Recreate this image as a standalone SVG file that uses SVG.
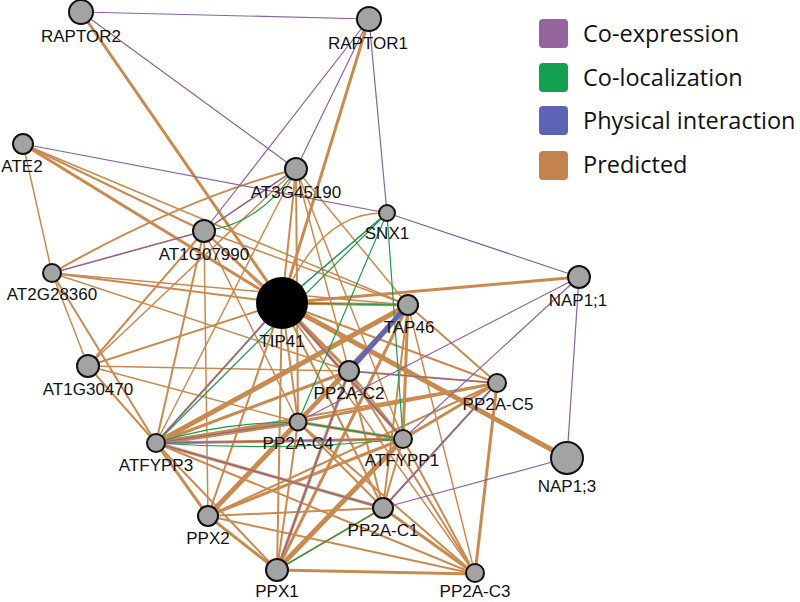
<svg xmlns="http://www.w3.org/2000/svg" width="800" height="602" viewBox="0 0 800 602">
<style>
.p{stroke:#c98a50;fill:none;stroke-width:2}
.p1{stroke:#c98a50;fill:none;stroke-width:1.5}
.p3{stroke:#c98a50;fill:none;stroke-width:3}
.p5{stroke:#c98a50;fill:none;stroke-width:5}
.e{stroke:#8a63a0;fill:none;stroke-width:1.2}
.g{stroke:#1f9a4c;fill:none;stroke-width:1.2}
.b{stroke:#6266b8;fill:none;stroke-width:5}
.n{fill:#a3a3a3;stroke:#111;stroke-width:2}
.t{font-family:"Liberation Sans",Arial,sans-serif;font-size:17px;fill:#111;text-anchor:middle}
.lg{font-family:"Open Sans","Noto Sans",sans-serif;font-size:23.5px;fill:#111}
</style>
<rect width="800" height="602" fill="#fff"/>
<g id="connectors">
<line class="p3" x1="81" y1="12" x2="282" y2="303"/>
<line class="p3" x1="369" y1="19" x2="282" y2="303"/>
<line class="p3" x1="23" y1="144" x2="282" y2="303"/>
<line class="p" x1="23" y1="144" x2="204" y2="231"/>
<line class="p1" x1="23" y1="144" x2="52" y2="273"/>
<line class="p1" x1="23" y1="144" x2="408" y2="305"/>
<path class="p" d="M52 273 Q180 200 296 169"/>
<line class="p" x1="296" y1="169" x2="282" y2="303"/>
<line class="p1" x1="296" y1="169" x2="408" y2="305"/>
<line class="p1" x1="296" y1="169" x2="349" y2="371"/>
<line class="p1" x1="296" y1="169" x2="403" y2="439"/>
<line class="p" x1="296" y1="169" x2="298" y2="422"/>
<line class="p1" x1="296" y1="169" x2="88" y2="366"/>
<line class="p1" x1="296" y1="169" x2="156" y2="443"/>
<line class="p1" x1="296" y1="169" x2="204" y2="231"/>
<line class="p" x1="204" y1="231" x2="282" y2="303"/>
<line class="p1" x1="204" y1="231" x2="52" y2="273"/>
<line class="p" x1="204" y1="231" x2="88" y2="366"/>
<line class="p" x1="204" y1="231" x2="156" y2="443"/>
<line class="p1" x1="204" y1="231" x2="298" y2="422"/>
<line class="p1" x1="204" y1="231" x2="208" y2="516"/>
<line class="p1" x1="204" y1="231" x2="349" y2="371"/>
<line class="p1" x1="204" y1="231" x2="408" y2="305"/>
<line class="p" x1="52" y1="273" x2="282" y2="303"/>
<line class="p1" x1="52" y1="273" x2="88" y2="366"/>
<line class="p" x1="52" y1="273" x2="156" y2="443"/>
<line class="p1" x1="52" y1="273" x2="349" y2="371"/>
<line class="p1" x1="52" y1="273" x2="408" y2="305"/>
<line class="p" x1="88" y1="366" x2="282" y2="303"/>
<line class="p" x1="88" y1="366" x2="156" y2="443"/>
<line class="p1" x1="88" y1="366" x2="298" y2="422"/>
<line class="p1" x1="88" y1="366" x2="349" y2="371"/>
<path class="p1" d="M282 303 Q320 210 387 213"/>
<line class="p3" x1="282" y1="303" x2="408" y2="305"/>
<line class="p3" x1="282" y1="303" x2="579" y2="277"/>
<line class="p5" x1="282" y1="303" x2="567" y2="458"/>
<line class="p3" x1="282" y1="303" x2="349" y2="371"/>
<line class="p" x1="282" y1="303" x2="497" y2="383"/>
<line class="p" x1="282" y1="303" x2="298" y2="422"/>
<line class="p3" x1="282" y1="303" x2="403" y2="439"/>
<line class="p" x1="282" y1="303" x2="156" y2="443"/>
<line class="p" x1="282" y1="303" x2="383" y2="508"/>
<line class="p" x1="282" y1="303" x2="208" y2="516"/>
<line class="p" x1="282" y1="303" x2="277" y2="570"/>
<line class="p1" x1="282" y1="303" x2="475" y2="574"/>
<line class="p" x1="408" y1="305" x2="497" y2="383"/>
<line class="p3" x1="408" y1="305" x2="298" y2="422"/>
<line class="p5" x1="408" y1="305" x2="156" y2="443"/>
<line class="p3" x1="408" y1="305" x2="403" y2="439"/>
<line class="p" x1="408" y1="305" x2="383" y2="508"/>
<line class="p3" x1="408" y1="305" x2="208" y2="516"/>
<line class="p3" x1="408" y1="305" x2="277" y2="570"/>
<line class="p1" x1="408" y1="305" x2="475" y2="574"/>
<line class="p" x1="349" y1="371" x2="497" y2="383"/>
<line class="p" x1="349" y1="371" x2="298" y2="422"/>
<line class="p3" x1="349" y1="371" x2="156" y2="443"/>
<line class="p" x1="349" y1="371" x2="403" y2="439"/>
<line class="p" x1="349" y1="371" x2="383" y2="508"/>
<line class="p3" x1="349" y1="371" x2="277" y2="570"/>
<line class="p" x1="349" y1="371" x2="208" y2="516"/>
<line class="p" x1="349" y1="371" x2="475" y2="574"/>
<line class="p3" x1="497" y1="383" x2="298" y2="422"/>
<line class="p" x1="497" y1="383" x2="156" y2="443"/>
<line class="p3" x1="497" y1="383" x2="403" y2="439"/>
<line class="p" x1="497" y1="383" x2="383" y2="508"/>
<line class="p3" x1="497" y1="383" x2="475" y2="574"/>
<line class="p" x1="497" y1="383" x2="208" y2="516"/>
<line class="p5" x1="298" y1="422" x2="156" y2="443"/>
<line class="p3" x1="298" y1="422" x2="403" y2="439"/>
<line class="p" x1="298" y1="422" x2="383" y2="508"/>
<line class="p5" x1="298" y1="422" x2="208" y2="516"/>
<line class="p" x1="298" y1="422" x2="277" y2="570"/>
<line class="p" x1="298" y1="422" x2="475" y2="574"/>
<line class="p3" x1="156" y1="443" x2="403" y2="439"/>
<line class="p3" x1="156" y1="443" x2="383" y2="508"/>
<line class="p3" x1="156" y1="443" x2="208" y2="516"/>
<line class="p" x1="156" y1="443" x2="277" y2="570"/>
<line class="p" x1="156" y1="443" x2="475" y2="574"/>
<line class="p" x1="403" y1="439" x2="383" y2="508"/>
<line class="p3" x1="403" y1="439" x2="208" y2="516"/>
<line class="p5" x1="403" y1="439" x2="277" y2="570"/>
<line class="p" x1="403" y1="439" x2="475" y2="574"/>
<line class="p" x1="383" y1="508" x2="208" y2="516"/>
<line class="p" x1="383" y1="508" x2="277" y2="570"/>
<line class="p3" x1="383" y1="508" x2="475" y2="574"/>
<line class="p3" x1="208" y1="516" x2="277" y2="570"/>
<line class="p" x1="208" y1="516" x2="475" y2="574"/>
<line class="p3" x1="277" y1="570" x2="475" y2="574"/>
<line class="e" x1="81" y1="12" x2="369" y2="19"/>
<line class="e" x1="81" y1="12" x2="296" y2="169"/>
<line class="e" x1="369" y1="19" x2="296" y2="169"/>
<line class="e" x1="369" y1="19" x2="204" y2="231"/>
<line class="e" x1="369" y1="19" x2="387" y2="213"/>
<line class="e" x1="23" y1="144" x2="387" y2="213"/>
<line class="e" x1="387" y1="213" x2="579" y2="277"/>
<line class="e" x1="52" y1="273" x2="204" y2="231"/>
<line class="e" x1="204" y1="231" x2="296" y2="169"/>
<line class="e" x1="282" y1="303" x2="387" y2="213"/>
<line class="e" x1="298" y1="422" x2="579" y2="277"/>
<line class="e" x1="403" y1="439" x2="579" y2="277"/>
<line class="e" x1="579" y1="277" x2="567" y2="458"/>
<line class="e" x1="383" y1="508" x2="567" y2="458"/>
<line class="e" x1="383" y1="508" x2="497" y2="383"/>
<line class="e" x1="349" y1="371" x2="497" y2="383"/>
<line class="e" x1="156" y1="443" x2="383" y2="508"/>
<line class="e" x1="156" y1="443" x2="298" y2="422"/>
<line class="e" x1="156" y1="443" x2="403" y2="439"/>
<line class="e" x1="277" y1="570" x2="349" y2="371"/>
<line class="e" x1="156" y1="443" x2="282" y2="303"/>
<line class="e" x1="282" y1="303" x2="403" y2="439"/>
<line class="e" x1="298" y1="422" x2="403" y2="439"/>
<path class="g" d="M204 231 Q260 225 296 169"/>
<line class="g" x1="387" y1="213" x2="282" y2="303"/>
<line class="g" x1="387" y1="213" x2="298" y2="422"/>
<line class="g" x1="387" y1="213" x2="403" y2="439"/>
<line class="g" x1="282" y1="303" x2="408" y2="305"/>
<path class="g" d="M156 443 Q220 422 298 422"/>
<path class="g" d="M156 443 Q280 452 403 439"/>
<line class="g" x1="298" y1="422" x2="403" y2="439"/>
<line class="g" x1="156" y1="443" x2="387" y2="213"/>
<line class="g" x1="277" y1="570" x2="383" y2="508"/>
<line class="b" x1="408" y1="305" x2="349" y2="371"/>
</g>
<g id="RAPTOR2"><circle class="n" cx="81" cy="12" r="12"/><text class="t" x="81" y="42">RAPTOR2</text></g>
<g id="RAPTOR1"><circle class="n" cx="369" cy="19" r="12"/><text class="t" x="368" y="49">RAPTOR1</text></g>
<g id="ATE2"><circle class="n" cx="23" cy="144" r="10"/><text class="t" x="22" y="172">ATE2</text></g>
<g id="AT3G45190"><circle class="n" cx="296" cy="169" r="11"/><text class="t" x="296" y="198">AT3G45190</text></g>
<g id="SNX1"><circle class="n" cx="387" cy="213" r="8"/><text class="t" x="387" y="239">SNX1</text></g>
<g id="AT1G07990"><circle class="n" cx="204" cy="231" r="11"/><text class="t" x="204" y="260">AT1G07990</text></g>
<g id="AT2G28360"><circle class="n" cx="52" cy="273" r="9"/><text class="t" x="52" y="300">AT2G28360</text></g>
<g id="TIP41"><circle cx="282" cy="303" r="26" fill="#000"/><text class="t" x="282" y="347">TIP41</text></g>
<g id="NAP1_1"><circle class="n" cx="579" cy="277" r="11"/><text class="t" x="578" y="306">NAP1;1</text></g>
<g id="TAP46"><circle class="n" cx="408" cy="305" r="10"/><text class="t" x="409" y="333">TAP46</text></g>
<g id="AT1G30470"><circle class="n" cx="88" cy="366" r="11"/><text class="t" x="88" y="395">AT1G30470</text></g>
<g id="PP2A-C2"><circle class="n" cx="349" cy="371" r="10"/><text class="t" x="349" y="399">PP2A-C2</text></g>
<g id="PP2A-C5"><circle class="n" cx="497" cy="383" r="9"/><text class="t" x="498" y="410">PP2A-C5</text></g>
<g id="PP2A-C4"><circle class="n" cx="298" cy="422" r="8.5"/><text class="t" x="298" y="449">PP2A-C4</text></g>
<g id="ATFYPP3"><circle class="n" cx="156" cy="443" r="9"/><text class="t" x="156" y="471">ATFYPP3</text></g>
<g id="ATFYPP1"><circle class="n" cx="403" cy="439" r="9"/><text class="t" x="402" y="466">ATFYPP1</text></g>
<g id="NAP1_3"><circle class="n" cx="567" cy="458" r="16"/><text class="t" x="567" y="492">NAP1;3</text></g>
<g id="PP2A-C1"><circle class="n" cx="383" cy="508" r="10"/><text class="t" x="383" y="536">PP2A-C1</text></g>
<g id="PPX2"><circle class="n" cx="208" cy="516" r="10"/><text class="t" x="208" y="544">PPX2</text></g>
<g id="PPX1"><circle class="n" cx="277" cy="570" r="11"/><text class="t" x="277" y="597">PPX1</text></g>
<g id="PP2A-C3"><circle class="n" cx="475" cy="573" r="9"/><text class="t" x="475" y="597">PP2A-C3</text></g>
<g id="legend">
<rect x="539" y="19" width="29" height="29" rx="4" fill="#94649e"/>
<rect x="539" y="63" width="29" height="29" rx="4" fill="#14a050"/>
<rect x="539" y="106" width="29" height="29" rx="4" fill="#5d63b5"/>
<rect x="539" y="151" width="29" height="29" rx="4" fill="#c4834e"/>
<text class="lg" x="583" y="42">Co-expression</text>
<text class="lg" x="583" y="86">Co-localization</text>
<text class="lg" x="583" y="129">Physical interaction</text>
<text class="lg" x="583" y="173">Predicted</text>
</g>
</svg>
